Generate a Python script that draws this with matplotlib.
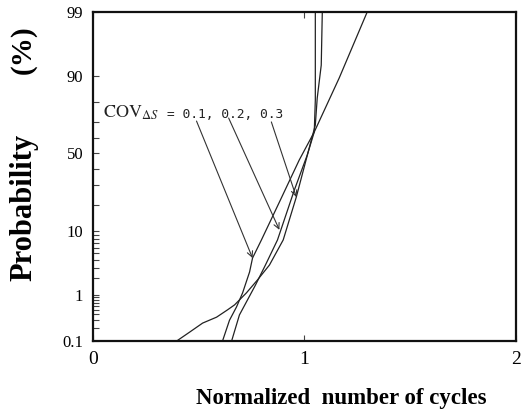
import numpy as np
import matplotlib
matplotlib.use("Agg")
import matplotlib.pyplot as plt
from statistics import NormalDist

# ---- data (x = normalized number of cycles, p = cumulative probability in %) ----
cov01_x = [0.613, 0.646, 0.679, 0.708, 0.741, 0.755, 0.797, 0.887, 0.976, 1.047, 1.165, 1.297]
cov01_p = [0.1, 0.30, 0.57, 1.08, 2.54, 4.24, 7.7, 22.2, 45.7, 63.8, 89.3, 99]

cov02_x = [0.656, 0.693, 0.769, 0.816, 0.873, 0.953, 1.014, 1.047, 1.052, 1.052]
cov02_p = [0.1, 0.39, 1.51, 3.3, 7.7, 27.4, 49, 63.8, 81, 99]

cov03_x = [0.396, 0.458, 0.519, 0.585, 0.637, 0.670, 0.726, 0.778, 0.835, 0.900,
           0.962, 1.033, 1.052, 1.061, 1.080, 1.085]
cov03_p = [0.1, 0.163, 0.26, 0.35, 0.50, 0.63, 1.08, 1.85, 3.3, 7.7,
           23.6, 58.7, 68, 81.9, 92.7, 99]

arrow_start_x = [0.490, 0.642, 0.844]
arrow_start_p = [70.3, 72.0, 69.8]
arrow_end_x = [0.755, 0.882, 0.962]
arrow_end_p = [4.24, 10.4, 23.6]

x_ticks = [0, 1, 2]
y_major = [0.1, 1, 10, 50, 90, 99]
y_minor = [0.2, 0.3, 0.4, 0.5, 0.6, 0.7, 0.8, 0.9, 2, 3, 4, 5, 6, 7, 8, 9,
           20, 30, 40, 60, 70, 80]

# ---- normal probability scale ----
_nd = NormalDist()


def _fwd(p):
    p = np.clip(np.asarray(p, dtype=float), 1e-9, 100 - 1e-9)
    return np.vectorize(lambda v: _nd.inv_cdf(v / 100.0), otypes=[float])(p)


def _inv(z):
    z = np.asarray(z, dtype=float)
    return np.vectorize(lambda v: _nd.cdf(v) * 100.0, otypes=[float])(z)


plt.rcParams['mathtext.fontset'] = 'stix'
serif = 'Liberation Serif'

fig = plt.figure(figsize=(5.22, 4.20), dpi=100)
ax = fig.add_axes([0.178, 0.188, 0.810, 0.783])
ax.set_yscale('function', functions=(_fwd, _inv))

lc = '#222222'
ax.plot(cov01_x, cov01_p, color=lc, lw=0.9)
ax.plot(cov02_x, cov02_p, color=lc, lw=0.9)
ax.plot(cov03_x, cov03_p, color=lc, lw=0.9)

ax.set_xlim(0, 2)
ax.set_ylim(0.1, 99)

ax.set_xticks(x_ticks)
ax.set_xticklabels([str(t) for t in x_ticks], fontfamily=serif, fontsize=14)
ax.set_yticks(y_major)
ax.set_yticklabels(['0.1', '1', '10', '50', '90', '99'], fontfamily=serif, fontsize=12)
ax.set_yticks(y_minor, minor=True)

ax.tick_params(axis='both', which='both', direction='in', length=4, width=0.8,
               color='#444444')
ax.tick_params(axis='x', top=True, pad=7)
ax.tick_params(axis='y', which='both', pad=7)
ax.tick_params(axis='x', which='minor', bottom=False, top=False)

for s in ax.spines.values():
    s.set_linewidth(1.6)
    s.set_color('#111111')

# annotation text
ax.text(0.047, 72.0, r'$\mathrm{COV}_{\mathit{\Delta S}}$', fontsize=13,
        va='baseline', ha='left', color='#222222')
ax.text(0.352, 72.0, '= 0.1, 0.2, 0.3', fontfamily='DejaVu Sans Mono', fontsize=9.3,
        va='baseline', ha='left', color='#222222')

for sx, sp, ex, ep in zip(arrow_start_x, arrow_start_p, arrow_end_x, arrow_end_p):
    ax.annotate('', xy=(ex, ep), xytext=(sx, sp),
                arrowprops=dict(arrowstyle='->', lw=0.8, color='#333333',
                                shrinkA=0, shrinkB=0, mutation_scale=10))

# axis labels
fig.text(0.653, 0.052, 'Normalized  number of cycles', fontfamily=serif,
         fontweight='bold', fontsize=16.5, ha='center', va='center')
fig.text(0.045, 0.505, 'Probability', fontfamily=serif, fontweight='bold',
         fontsize=22, rotation=90, ha='center', va='center')
fig.text(0.045, 0.881, '(%)', fontfamily=serif, fontweight='bold',
         fontsize=21, rotation=90, ha='center', va='center')

fig.savefig('out.png', dpi=100)
